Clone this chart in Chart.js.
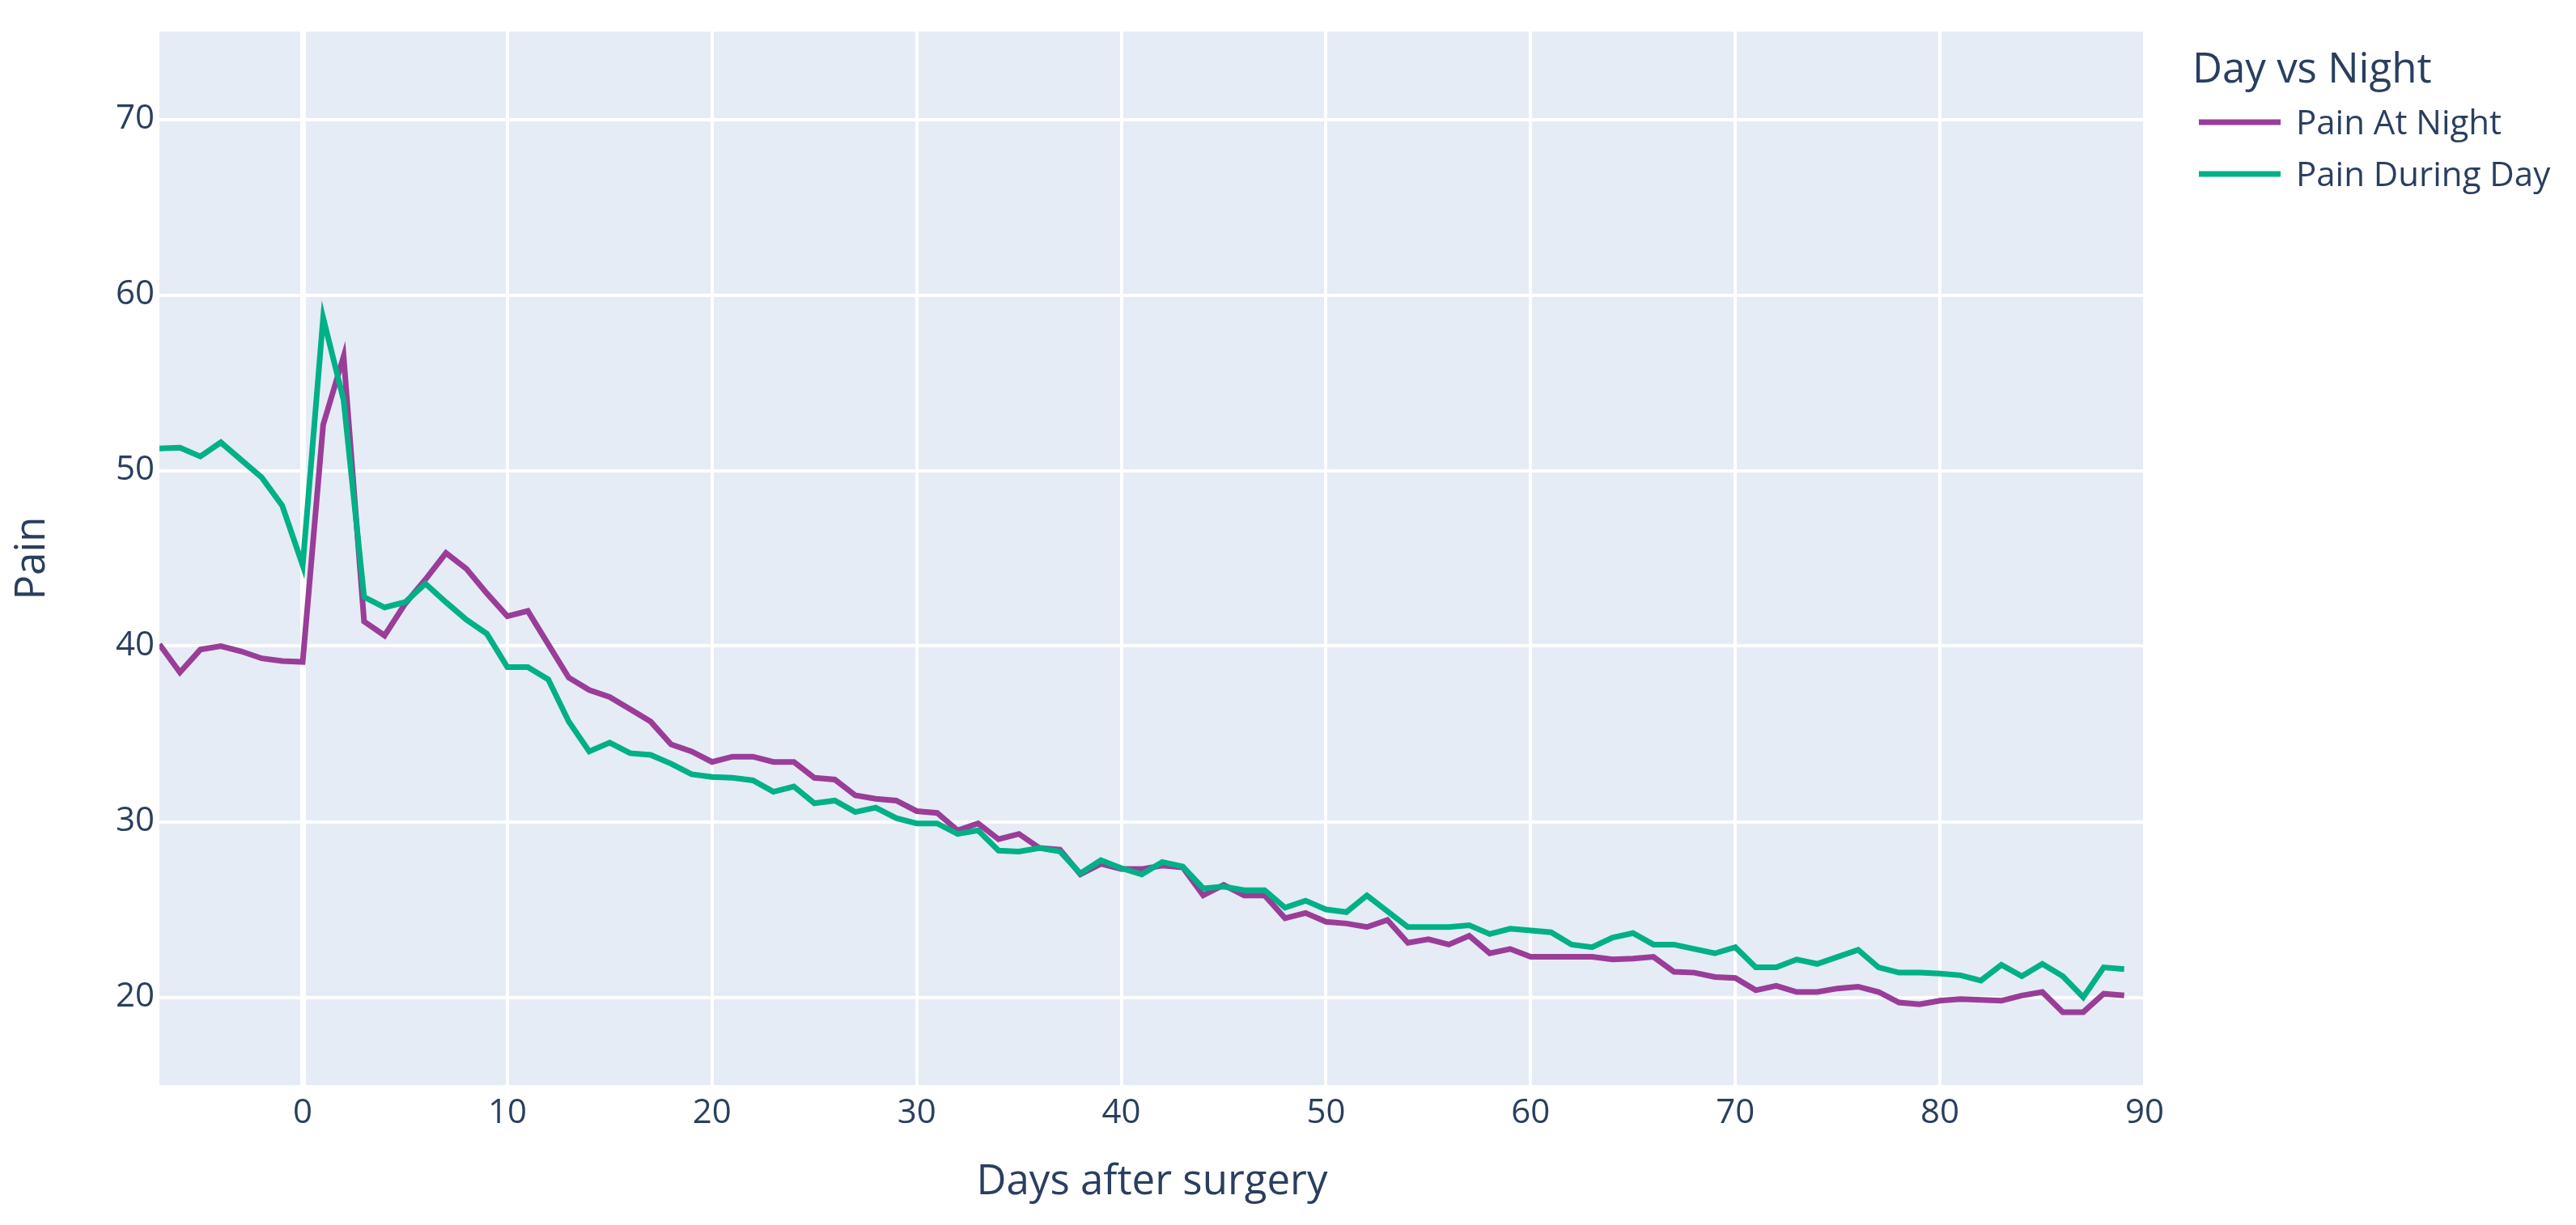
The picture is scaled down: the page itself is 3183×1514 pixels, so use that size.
<!DOCTYPE html>
<html>
<head>
<meta charset="utf-8">
<script src="https://cdn.jsdelivr.net/npm/chart.js@4.4.1/dist/chart.umd.min.js"></script>
<style>
  html, body { margin: 0; padding: 0; background: #ffffff; }
  #wrap { width: 3183px; height: 1514px; }
</style>
</head>
<body>
<div id="wrap"><canvas id="pain-chart" width="3183" height="1514"></canvas></div>
<script>
// days relative to surgery
const days = [
  -7, -6, -5, -4, -3, -2, -1, 0, 1, 2,
  3, 4, 5, 6, 7, 8, 9, 10, 11, 12,
  13, 14, 15, 16, 17, 18, 19, 20, 21, 22,
  23, 24, 25, 26, 27, 28, 29, 30, 31, 32,
  33, 34, 35, 36, 37, 38, 39, 40, 41, 42,
  43, 44, 45, 46, 47, 48, 49, 50, 51, 52,
  53, 54, 55, 56, 57, 58, 59, 60, 61, 62,
  63, 64, 65, 66, 67, 68, 69, 70, 71, 72,
  73, 74, 75, 76, 77, 78, 79, 80, 81, 82,
  83, 84, 85, 86, 87, 88, 89
];

const painAtNight = [
  40.1, 38.5, 39.8, 40.0, 39.7, 39.3, 39.15, 39.1, 52.6, 56.5,
  41.4, 40.6, 42.4, 43.8, 45.3, 44.4, 43.0, 41.7, 42.0, 40.1,
  38.2, 37.5, 37.1, 36.4, 35.7, 34.4, 34.0, 33.4, 33.7, 33.7,
  33.4, 33.4, 32.5, 32.4, 31.5, 31.3, 31.2, 30.6, 30.5, 29.5,
  29.9, 29.0, 29.3, 28.5, 28.4, 27.0, 27.6, 27.3, 27.3, 27.5,
  27.4, 25.8, 26.4, 25.8, 25.8, 24.5, 24.8, 24.3, 24.2, 24.0,
  24.4, 23.1, 23.3, 23.0, 23.5, 22.5, 22.75, 22.3, 22.3, 22.3,
  22.3, 22.15, 22.2, 22.3, 21.45, 21.4, 21.15, 21.1, 20.4, 20.65,
  20.3, 20.3, 20.5, 20.6, 20.3, 19.7, 19.6, 19.8, 19.9, 19.85,
  19.8, 20.1, 20.3, 19.15, 19.15, 20.2, 20.1
];

const painDuringDay = [
  51.25, 51.3, 50.8, 51.6, 50.6, 49.6, 48.0, 44.6, 58.7, 54.0,
  42.8, 42.2, 42.5, 43.55, 42.5, 41.5, 40.7, 38.8, 38.8, 38.1,
  35.7, 34.0, 34.5, 33.9, 33.8, 33.3, 32.7, 32.55, 32.5, 32.35,
  31.7, 32.0, 31.05, 31.2, 30.55, 30.8, 30.2, 29.9, 29.9, 29.3,
  29.5, 28.35, 28.3, 28.5, 28.3, 27.05, 27.8, 27.35, 27.0, 27.7,
  27.45, 26.2, 26.3, 26.1, 26.1, 25.1, 25.5, 25.0, 24.85, 25.8,
  24.9, 24.0, 24.0, 24.0, 24.1, 23.6, 23.9, 23.8, 23.7, 23.0,
  22.85, 23.4, 23.65, 23.0, 23.0, 22.75, 22.5, 22.85, 21.7, 21.7,
  22.15, 21.9, 22.3, 22.7, 21.7, 21.4, 21.4, 21.35, 21.25, 20.95,
  21.85, 21.2, 21.9, 21.2, 20.0, 21.7, 21.6
];

const xTicks = [0, 10, 20, 30, 40, 50, 60, 70, 80, 90];
const yTicks = [20, 30, 40, 50, 60, 70];

const seriesNames = ['Pain At Night', 'Pain During Day'];
const legendTitle = 'Day vs Night';

const textColor = '#2a3f5f';
const fontFamily = '"Open Sans", verdana, arial, sans-serif';

const toPoints = (vals) => vals.map((v, i) => ({ x: days[i], y: v }));

// light blue plot background like plotly
const plotBg = {
  id: 'plotBg',
  beforeDraw(chart) {
    const { ctx, chartArea: a } = chart;
    ctx.save();
    ctx.fillStyle = '#E5ECF6';
    ctx.fillRect(a.left, a.top, a.right - a.left, a.bottom - a.top);
    ctx.restore();
  }
};

// legend on the right, drawn by hand so it lines up
const sideLegend = {
  id: 'sideLegend',
  afterDraw(chart) {
    const ctx = chart.ctx;
    ctx.save();
    ctx.fillStyle = textColor;
    ctx.textAlign = 'left';
    ctx.textBaseline = 'alphabetic';
    ctx.font = '51px ' + fontFamily;
    ctx.fillText(legendTitle, 2709, 102);

    const rows = [151, 215];
    chart.data.datasets.forEach((ds, i) => {
      const y = rows[i];
      ctx.strokeStyle = ds.borderColor;
      ctx.lineWidth = 7;
      ctx.lineCap = 'butt';
      ctx.beginPath();
      ctx.moveTo(2717, y);
      ctx.lineTo(2818, y);
      ctx.stroke();
      ctx.fillStyle = textColor;
      ctx.font = '42px ' + fontFamily;
      ctx.fillText(ds.label, 2837, y + 15);
    });
    ctx.restore();
  }
};

const data = {
  datasets: [
    {
      label: seriesNames[0],
      data: toPoints(painAtNight),
      borderColor: '#9a3d98',
      backgroundColor: '#9a3d98',
      borderWidth: 7,
      pointRadius: 0,
      tension: 0,
      order: 1,
    },
    {
      label: seriesNames[1],
      data: toPoints(painDuringDay),
      borderColor: '#00b087',
      backgroundColor: '#00b087',
      borderWidth: 7,
      pointRadius: 0,
      tension: 0,
      order: 0,
    },
  ],
};

const options = {
  responsive: false,
  animation: false,
  devicePixelRatio: 1,
  layout: { padding: { top: 39, right: 533, left: 0, bottom: 0 } },
  plugins: {
    legend: { display: false },
    tooltip: { enabled: false },
  },
  scales: {
    x: {
      type: 'linear',
      min: -7,
      max: 90,
      afterBuildTicks: (scale) => { scale.ticks = xTicks.map(v => ({ value: v })); },
      afterFit: (scale) => { scale.height = 173; },
      border: { display: false },
      grid: {
        color: '#ffffff',
        lineWidth: (c) => (c.tick && c.tick.value === 0 ? 7 : 4),
        drawTicks: false,
      },
      ticks: {
        color: textColor,
        font: { family: fontFamily, size: 42 },
        padding: 10,
        maxRotation: 0,
      },
      title: {
        display: true,
        text: 'Days after surgery',
        color: textColor,
        font: { family: fontFamily, size: 51 },
        padding: { top: 0, bottom: 22 },
      },
    },
    y: {
      min: 15,
      max: 75,
      afterBuildTicks: (scale) => { scale.ticks = yTicks.map(v => ({ value: v })); },
      afterFit: (scale) => { scale.width = 197; },
      border: { display: false },
      grid: {
        color: '#ffffff',
        lineWidth: 4,
        drawTicks: false,
      },
      ticks: {
        color: textColor,
        font: { family: fontFamily, size: 42 },
        padding: 6,
      },
      title: {
        display: true,
        text: 'Pain',
        color: textColor,
        font: { family: fontFamily, size: 51 },
        padding: { top: 10, bottom: 0 },
      },
    },
  },
};

new Chart(document.getElementById('pain-chart'), {
  type: 'line',
  data,
  options,
  plugins: [plotBg, sideLegend],
});
</script>
</body>
</html>
